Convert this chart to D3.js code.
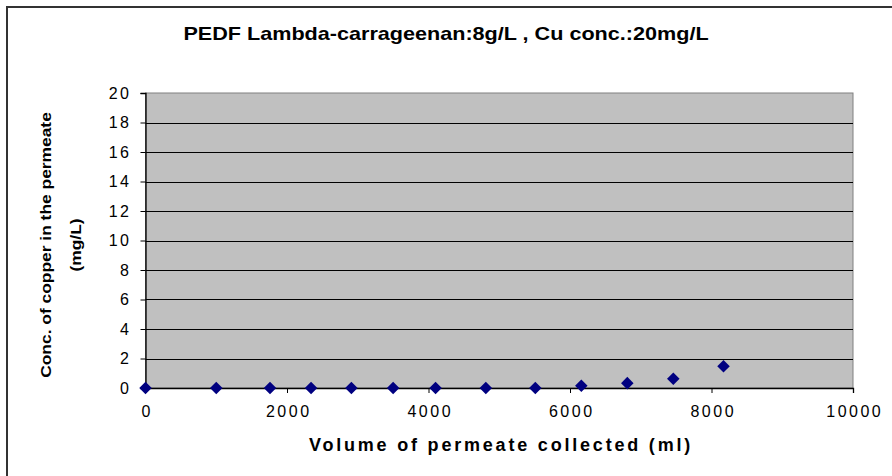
<!DOCTYPE html>
<html>
<head>
<meta charset="utf-8">
<script src="https://cdn.jsdelivr.net/npm/d3@7"></script>
<style>
  body { margin: 0; background: #fff; }
  text { font-family: "Liberation Sans", Arial, sans-serif; }
</style>
</head>
<body>
<script>
// Data
const volume = [0, 1000, 1760, 2340, 2910, 3500, 4100, 4810, 5510, 6160, 6810, 7460, 8170];
const copper = [0, 0, 0, 0, 0, 0, 0, 0, 0, 0.15, 0.33, 0.63, 1.48];
const xTicks = [0, 2000, 4000, 6000, 8000, 10000];
const yTicks = [0, 2, 4, 6, 8, 10, 12, 14, 16, 18, 20];

const width = 892, height = 476;
const plot = { left: 145.5, top: 93, right: 853, bottom: 388 };

const svg = d3.select("body").append("svg")
  .attr("width", width)
  .attr("height", height);

// chart area border
svg.append("rect")
  .attr("x", 7).attr("y", 7)
  .attr("width", 900).attr("height", 500)
  .attr("fill", "white")
  .attr("stroke", "#333")
  .attr("stroke-width", 2);

const x = d3.scaleLinear().domain([0, 10000]).range([plot.left, plot.right]);
const y = d3.scaleLinear().domain([0, 20]).range([plot.bottom, plot.top]);

// plot background
svg.append("rect")
  .attr("x", plot.left).attr("y", plot.top)
  .attr("width", plot.right - plot.left)
  .attr("height", plot.bottom - plot.top)
  .attr("fill", "#c0c0c0")
  .attr("stroke", "#808080")
  .attr("stroke-width", 1);

// gridlines
svg.append("g")
  .selectAll("line")
  .data(yTicks.filter(d => d > 0 && d < 20))
  .join("line")
  .attr("x1", plot.left).attr("x2", plot.right)
  .attr("y1", d => Math.round(y(d)) + 0.5)
  .attr("y2", d => Math.round(y(d)) + 0.5)
  .attr("stroke", "black");

// axes
const xAxis = svg.append("g")
  .attr("transform", `translate(0,${plot.bottom})`)
  .call(d3.axisBottom(x).tickValues(xTicks).tickSize(5).tickPadding(13).tickFormat(d3.format("d")));
const yAxis = svg.append("g")
  .attr("transform", `translate(${plot.left},0)`)
  .call(d3.axisLeft(y).tickValues(yTicks).tickSize(5).tickPadding(9));

[xAxis, yAxis].forEach(a => {
  a.select(".domain").attr("stroke", "black").attr("stroke-width", 1.3);
  a.selectAll(".tick line").attr("stroke", "black");
  a.selectAll(".tick text")
    .attr("fill", "black")
    .style("font-size", "16px")
    .style("letter-spacing", "2.5px")
    .style("font-family", "Liberation Sans, Arial, sans-serif");
});
xAxis.selectAll(".tick text").attr("dx", "1.25px");

// markers
svg.append("g")
  .selectAll("path")
  .data(volume.map((v, i) => [v, copper[i]]))
  .join("path")
  .attr("d", d3.symbol(d3.symbolDiamond2, 100))
  .attr("transform", d => `translate(${x(d[0])},${y(d[1])})`)
  .attr("fill", "#000080");

// title (the original font is drawn a bit wider)
svg.append("text")
  .attr("transform", "translate(446,40) scale(1.2,1)")
  .attr("text-anchor", "middle")
  .style("font-weight", "bold")
  .style("font-size", "18px")
  .text("PEDF Lambda-carrageenan:8g/L , Cu conc.:20mg/L");

// y title
const yt = svg.append("text")
  .attr("transform", "translate(0,245) rotate(-90) scale(1.2,1)")
  .attr("text-anchor", "middle")
  .style("font-weight", "bold")
  .style("font-size", "14.5px");
yt.append("tspan").attr("x", 0).attr("y", 51).text("Conc. of copper in the permeate");
yt.append("tspan").attr("x", 0).attr("y", 81).text("(mg/L)");

// x title
svg.append("text")
  .attr("x", 501).attr("y", 451)
  .attr("text-anchor", "middle")
  .style("font-weight", "bold")
  .style("font-size", "18px")
  .style("letter-spacing", "2.8px")
  .text("Volume of permeate collected (ml)");
</script>
</body>
</html>
